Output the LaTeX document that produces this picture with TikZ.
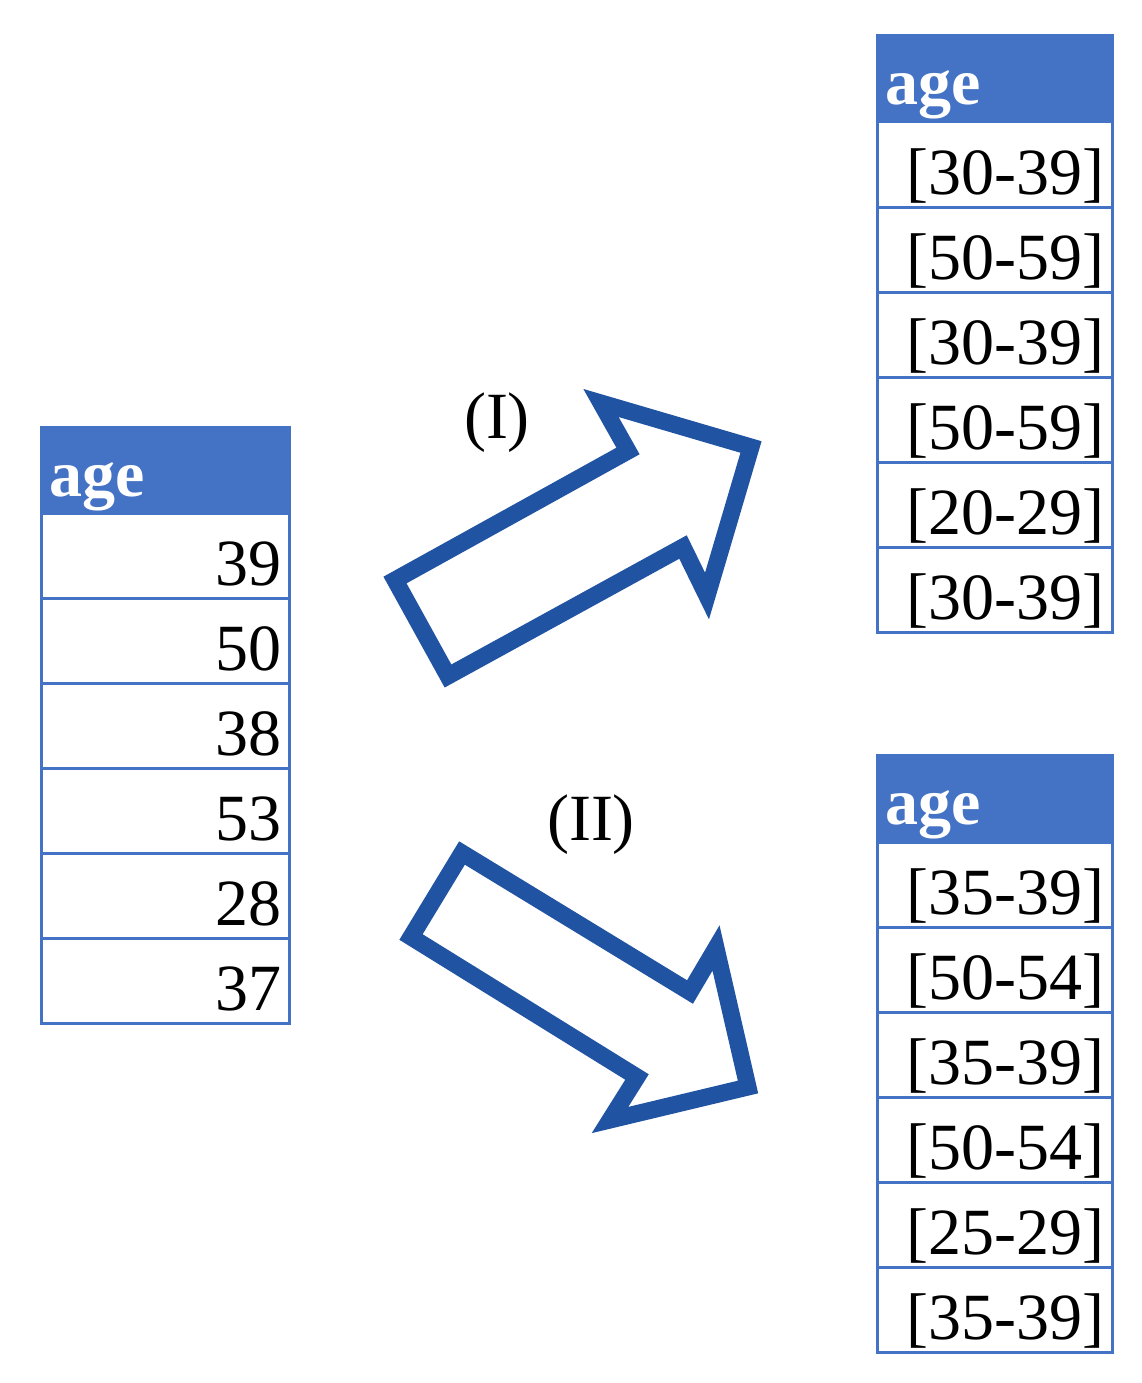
\documentclass[tikz,border=0pt]{standalone}
\usepackage{fontspec}
\setmainfont{Liberation Serif}
\definecolor{tblue}{RGB}{68,114,196}
\definecolor{arrblue}{RGB}{33,83,163}
\tikzset{
  cell/.style={draw=tblue, line width=3pt, outer sep=0pt, inner xsep=8pt, inner ysep=0pt,
    text height=72pt, text depth=13pt, align=right, font=\fontsize{66}{70}\selectfont},
  head/.style={cell, fill=tblue, text=white, align=left, text height=69pt, text depth=17pt,
    font=\fontsize{66}{70}\selectfont\bfseries},
  bigarrow/.style={draw=arrblue, line width=17pt, line join=miter, miter limit=10}
}

\begin{document}
\begin{tikzpicture}[x=1pt, y=-1pt]
    \useasboundingbox (0,0) rectangle (1142,1383);

    % original column
    \node [head, text width=232pt] (ageL) at (165,470) {age};
    \node [cell, text width=232pt] (l1) at (165,555.5) {39};
    \node [cell, text width=232pt] (l2) at (165,640.5) {50};
    \node [cell, text width=232pt] (l3) at (165,725.5) {38};
    \node [cell, text width=232pt] (l4) at (165,810.5) {53};
    \node [cell, text width=232pt] (l5) at (165,895.5) {28};
    \node [cell, text width=232pt] (l6) at (165,980.5) {37};

    % generalisation (I)
    \node [head, text width=219pt] (ageA) at (994.5,78.5) {age};
    \node [cell, text width=219pt] (a1) at (994.5,164.5) {[30-39]};
    \node [cell, text width=219pt] (a2) at (994.5,249.5) {[50-59]};
    \node [cell, text width=219pt] (a3) at (994.5,334.5) {[30-39]};
    \node [cell, text width=219pt] (a4) at (994.5,419.5) {[50-59]};
    \node [cell, text width=219pt] (a5) at (994.5,504.5) {[20-29]};
    \node [cell, text width=219pt] (a6) at (994.5,589.5) {[30-39]};

    % generalisation (II)
    \node [head, text width=219pt] (ageB) at (994.5,798.5) {age};
    \node [cell, text width=219pt] (b1) at (994.5,884.5) {[35-39]};
    \node [cell, text width=219pt] (b2) at (994.5,969.5) {[50-54]};
    \node [cell, text width=219pt] (b3) at (994.5,1054.5) {[35-39]};
    \node [cell, text width=219pt] (b4) at (994.5,1139.5) {[50-54]};
    \node [cell, text width=219pt] (b5) at (994.5,1224.5) {[25-29]};
    \node [cell, text width=219pt] (b6) at (994.5,1309.5) {[35-39]};

    \node [font=\fontsize{66}{70}\selectfont] (I) at (497,423) {(I)};
    \node [font=\fontsize{66}{70}\selectfont] (II) at (591,825) {(II)};

    \draw [bigarrow] (395,580) -- (448,676) -- (683,547) -- (707,596) -- (751,447)
        -- (601,403) -- (628,451) -- cycle;
    \draw [bigarrow] (462,853) -- (411,937) -- (637,1077) -- (610,1120) -- (748,1087)
        -- (716,948) -- (690,992) -- cycle;
\end{tikzpicture}
\end{document}
